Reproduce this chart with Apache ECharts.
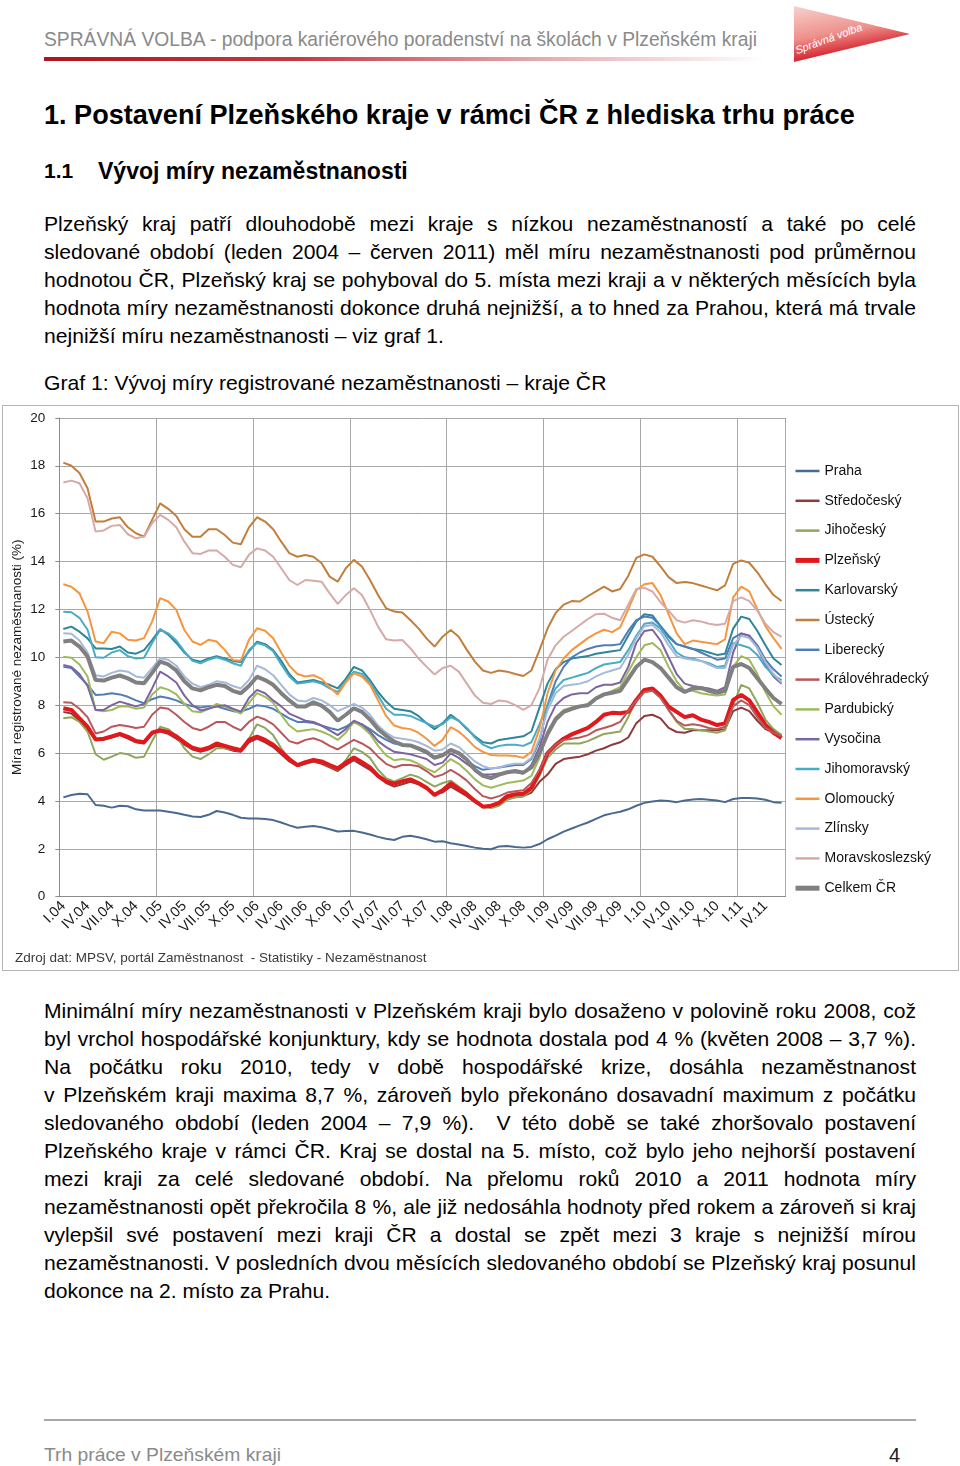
<!DOCTYPE html>
<html><head><meta charset="utf-8">
<script src="https://cdn.jsdelivr.net/npm/echarts@6/dist/echarts.min.js"></script>
<style>
html,body{margin:0;padding:0;background:#fff;}
body{width:960px;height:1466px;position:relative;overflow:hidden;font-family:'Liberation Sans',Arial,sans-serif;color:#000;}
.abs{position:absolute;white-space:nowrap;}
#hdr{left:44px;top:27px;font-size:20.5px;line-height:24px;color:#8a8a8a;font-family:'Liberation Sans Narrow','Liberation Sans',Arial,sans-serif;transform-origin:left top;}
#redline{position:absolute;left:44px;top:57px;width:722px;height:4px;background:linear-gradient(to right,#b0141c 0%,#c43a41 35%,#e6aeb1 70%,#ffffff 100%);}
#logo{position:absolute;left:794px;top:6px;width:116px;height:56px;clip-path:polygon(0 0,100% 50%,0 100%);background:linear-gradient(170deg,#f7d2cf 0%,#ee8f8a 45%,#d8303a 70%,#b8141e 100%);}
#logotxt{position:absolute;left:798px;top:44px;font-size:11px;line-height:13px;color:#fff;font-style:italic;transform:rotate(-20deg);transform-origin:left bottom;white-space:nowrap;}
#h1{left:44px;top:100px;font-size:25px;line-height:30px;font-weight:bold;}
#h2a{left:44px;top:158px;font-size:21px;line-height:26px;font-weight:bold;}
#h2b{left:98px;top:158px;font-size:21px;line-height:26px;font-weight:bold;}
.ln{position:absolute;left:44px;width:872px;font-size:21.1px;line-height:28px;text-align:justify;text-align-last:justify;}
.last{text-align:left;text-align-last:left;}
#cap{left:44px;top:369px;font-size:19.3px;line-height:28px;}
#box{position:absolute;left:2px;top:405px;width:955px;height:564px;border:1px solid #b4b4b4;}
#chart{position:absolute;left:2px;top:406px;width:956px;height:564px;}
#fline{position:absolute;left:44px;top:1419px;width:872px;height:2px;background:#a8a8a8;}
#foot{left:44px;top:1441px;font-size:19.3px;line-height:28px;color:#8a8a8a;}
#pg{left:889px;top:1441px;font-size:20px;line-height:28px;color:#222;}
</style></head>
<body>
<div id="hdr" class="abs">SPRÁVNÁ VOLBA - podpora kariérového poradenství na školách v Plzeňském kraji</div>
<div id="redline"></div>
<div id="logo"></div>
<div id="logotxt">Správná volba</div>
<div id="h1" class="abs">1. Postavení Plzeňského kraje v rámci ČR z hlediska trhu práce</div>
<div id="h2a" class="abs">1.1</div>
<div id="h2b" class="abs">Vývoj míry nezaměstnanosti</div>

<div class="ln" style="top:210px">Plzeňský kraj patří dlouhodobě mezi kraje s nízkou nezaměstnaností a také po celé</div>
<div class="ln" style="top:238px">sledované období (leden 2004 – červen 2011) měl míru nezaměstnanosti pod průměrnou</div>
<div class="ln" style="top:266px">hodnotou ČR, Plzeňský kraj se pohyboval do 5. místa mezi kraji a v některých měsících byla</div>
<div class="ln" style="top:294px">hodnota míry nezaměstnanosti dokonce druhá nejnižší, a to hned za Prahou, která má trvale</div>
<div class="ln last" style="top:322px">nejnižší míru nezaměstnanosti – viz graf 1.</div>

<div id="cap" class="abs">Graf 1: Vývoj míry registrované nezaměstnanosti – kraje ČR</div>
<div id="box"></div>
<div id="chart"></div>

<div class="ln" style="top:997px">Minimální míry nezaměstnanosti v Plzeňském kraji bylo dosaženo v polovině roku 2008, což</div>
<div class="ln" style="top:1025px">byl vrchol hospodářské konjunktury, kdy se hodnota dostala pod 4 % (květen 2008 – 3,7 %).</div>
<div class="ln" style="top:1053px">Na počátku roku 2010, tedy v době hospodářské krize, dosáhla nezaměstnanost</div>
<div class="ln" style="top:1081px">v Plzeňském kraji maxima 8,7 %, zároveň bylo překonáno dosavadní maximum z počátku</div>
<div class="ln" style="top:1109px">sledovaného období (leden 2004 – 7,9 %). &nbsp;V této době se také zhoršovalo postavení</div>
<div class="ln" style="top:1137px">Plzeňského kraje v rámci ČR. Kraj se dostal na 5. místo, což bylo jeho nejhorší postavení</div>
<div class="ln" style="top:1165px">mezi kraji za celé sledované období. Na přelomu roků 2010 a 2011 hodnota míry</div>
<div class="ln" style="top:1193px">nezaměstnanosti opět překročila 8 %, ale již nedosáhla hodnoty před rokem a zároveň si kraj</div>
<div class="ln" style="top:1221px">vylepšil své postavení mezi kraji ČR a dostal se zpět mezi 3 kraje s nejnižší mírou</div>
<div class="ln" style="top:1249px">nezaměstnanosti. V posledních dvou měsících sledovaného období se Plzeňský kraj posunul</div>
<div class="ln last" style="top:1277px">dokonce na 2. místo za Prahu.</div>

<div id="fline"></div>
<div id="foot" class="abs">Trh práce v Plzeňském kraji</div>
<div id="pg" class="abs">4</div>

<script>
// ---- categories (I.04 ... VI.11)
const romanMonths = ['I','II','III','IV','V','VI','VII','VIII','IX','X','XI','XII'];
const yearLabels = ['04','05','06','07','08','09','10','11'];
const categories = [];
yearLabels.forEach(y => romanMonths.forEach(m => { if (categories.length < 90) categories.push(m + '.' + y); }));

const yTicks = [0,2,4,6,8,10,12,14,16,18,20];

// ---- series values (%), Jan 2004 .. Jun 2011
const praha = [4.15,4.25,4.3,4.28,3.83,3.8,3.72,3.8,3.78,3.65,3.6,3.6,
 3.6,3.55,3.5,3.42,3.35,3.33,3.42,3.58,3.52,3.42,3.3,3.27,
 3.27,3.25,3.2,3.1,2.98,2.88,2.92,2.95,2.9,2.82,2.72,2.74,
 2.75,2.68,2.6,2.5,2.42,2.37,2.5,2.55,2.48,2.4,2.3,2.32,
 2.23,2.18,2.12,2.05,2.0,1.98,2.1,2.12,2.08,2.05,2.08,2.2,
 2.4,2.55,2.72,2.85,2.98,3.1,3.25,3.4,3.48,3.55,3.65,3.8,
 3.92,3.98,4.02,4.0,3.95,4.02,4.06,4.08,4.05,4.02,3.95,4.08,
 4.12,4.12,4.1,4.05,3.95,3.92];
const stredocesky = [7.72,7.65,7.35,7.0,6.55,6.55,6.65,6.75,6.6,6.45,6.4,6.8,
 6.9,6.8,6.6,6.35,6.15,6.05,6.15,6.3,6.2,6.1,6.05,6.45,
 6.6,6.45,6.25,5.95,5.65,5.45,5.55,5.65,5.55,5.4,5.25,5.5,
 5.7,5.5,5.3,5.0,4.75,4.6,4.7,4.8,4.7,4.5,4.3,4.35,
 4.6,4.4,4.2,3.95,3.75,3.75,3.85,4.1,4.15,4.2,4.35,4.8,
 5.1,5.55,5.75,5.8,5.85,5.95,6.1,6.2,6.35,6.45,6.65,7.25,
 7.55,7.6,7.45,7.05,6.88,6.85,6.95,6.95,6.95,6.95,7.0,7.75,
 7.9,7.75,7.35,7.0,6.85,6.75];
const jihocesky = [7.45,7.5,7.3,6.9,5.95,5.72,5.85,6.0,5.95,5.8,5.85,6.5,
 7.1,7.0,6.7,6.2,5.85,5.75,5.95,6.2,6.2,6.15,6.1,6.6,
 7.2,7.05,6.75,6.2,5.75,5.5,5.6,5.7,5.6,5.45,5.3,5.7,
 6.2,6.05,5.8,5.3,4.95,4.8,4.95,5.1,5.0,4.8,4.6,4.75,
 4.85,4.6,4.35,4.0,3.75,3.7,3.8,4.05,4.15,4.2,4.45,5.05,
 5.8,6.15,6.4,6.4,6.4,6.5,6.65,6.8,6.85,6.9,7.5,8.2,
 8.55,8.6,8.35,7.8,7.3,7.0,7.0,6.95,6.9,6.85,6.95,8.0,
 8.85,8.7,8.1,7.4,7.0,6.75];
const plzensky = [7.87,7.8,7.45,7.1,6.57,6.6,6.7,6.8,6.68,6.5,6.45,6.85,
 6.96,6.88,6.7,6.45,6.22,6.13,6.22,6.4,6.3,6.2,6.12,6.55,
 6.69,6.55,6.35,6.05,5.75,5.5,5.62,5.71,5.65,5.5,5.36,5.6,
 5.82,5.62,5.4,5.05,4.82,4.72,4.82,4.9,4.75,4.55,4.25,4.45,
 4.74,4.5,4.28,4.0,3.76,3.8,3.92,4.2,4.28,4.3,4.55,5.2,
 6.0,6.34,6.6,6.78,6.92,7.05,7.3,7.6,7.68,7.66,7.72,8.22,
 8.64,8.7,8.4,7.94,7.72,7.5,7.58,7.4,7.3,7.17,7.24,8.22,
 8.43,8.2,7.7,7.18,6.85,6.63];
const karlovarsky = [11.18,11.28,11.07,10.79,10.37,10.37,10.35,10.45,10.2,10.15,10.3,10.72,
 11.18,10.95,10.6,10.2,9.9,9.82,9.95,10.05,9.95,9.85,9.8,10.25,
 10.65,10.55,10.3,9.85,9.3,8.95,9.0,9.05,8.95,8.85,8.7,9.1,
 9.6,9.45,9.05,8.55,8.15,7.85,7.8,7.75,7.55,7.25,7.0,7.25,
 7.6,7.35,7.0,6.7,6.45,6.4,6.55,6.6,6.65,6.7,6.9,7.9,
 8.9,9.5,9.8,9.95,10.0,10.05,10.15,10.2,10.25,10.3,10.9,11.5,
 11.8,11.75,11.3,10.9,10.55,10.45,10.35,10.3,10.2,10.1,10.15,11.2,
 11.7,11.6,11.1,10.5,9.95,9.68];
const ustecky = [18.13,18.0,17.7,17.06,15.67,15.67,15.8,15.85,15.43,15.18,15.04,15.74,
 16.43,16.2,15.9,15.35,15.04,15.04,15.35,15.35,15.11,14.79,14.72,15.43,
 15.85,15.67,15.35,14.83,14.35,14.2,14.27,14.2,13.93,13.37,13.16,13.72,
 14.07,13.79,13.23,12.6,12.05,11.91,11.87,11.56,11.21,10.79,10.45,10.86,
 11.14,10.86,10.31,9.82,9.45,9.35,9.45,9.4,9.3,9.22,9.45,10.3,
 11.2,11.85,12.2,12.35,12.33,12.55,12.75,12.95,12.75,12.85,13.4,14.15,
 14.3,14.2,13.8,13.35,13.1,13.15,13.1,13.0,12.9,12.8,13.0,13.9,
 14.05,13.95,13.55,13.05,12.6,12.35];
const liberecky = [9.6,9.55,9.2,8.85,8.43,8.45,8.5,8.45,8.35,8.2,8.08,8.25,
 8.36,8.3,8.2,8.05,7.95,7.9,7.95,7.95,7.85,7.75,7.73,7.85,
 8.0,7.95,7.85,7.65,7.45,7.3,7.3,7.25,7.15,7.05,6.96,7.1,
 7.31,7.2,7.0,6.75,6.55,6.4,6.35,6.3,6.15,6.0,5.85,5.95,
 6.13,5.95,5.7,5.45,5.3,5.35,5.4,5.45,5.5,5.5,5.75,6.5,
 8.0,9.0,9.6,10.0,10.2,10.35,10.45,10.5,10.5,10.55,11.1,11.55,
 11.7,11.65,11.3,10.85,10.55,10.45,10.35,10.2,10.05,9.9,9.95,10.8,
 11.0,10.9,10.5,9.9,9.5,9.2];
const kralovehradecky = [8.12,8.1,7.85,7.5,6.82,6.9,7.1,7.17,7.12,7.05,7.1,7.6,
 7.9,7.85,7.6,7.3,7.05,6.95,7.1,7.3,7.3,7.1,6.95,7.3,
 7.52,7.4,7.2,6.85,6.5,6.4,6.55,6.62,6.5,6.3,6.15,6.35,
 6.55,6.4,6.2,5.85,5.55,5.4,5.5,5.5,5.45,5.25,5.0,5.1,
 5.3,5.1,4.85,4.5,4.2,4.1,4.2,4.35,4.4,4.45,4.75,5.3,
 6.0,6.35,6.55,6.6,6.65,6.75,6.95,7.05,7.15,7.3,7.75,8.2,
 8.55,8.6,8.3,7.8,7.35,7.15,7.2,7.15,7.05,7.0,7.1,7.95,
 8.2,8.0,7.5,7.05,6.85,6.7];
const pardubicky = [10.02,9.98,9.7,9.2,7.8,7.75,7.8,7.95,7.95,7.85,7.9,8.45,
 8.75,8.65,8.45,8.05,7.75,7.7,7.85,8.05,7.95,7.8,7.65,8.1,
 8.5,8.35,8.1,7.6,7.15,6.9,6.95,7.0,6.9,6.75,6.55,6.85,
 7.3,7.1,6.8,6.3,5.9,5.7,5.75,5.7,5.55,5.35,5.2,5.45,
 5.75,5.55,5.25,4.9,4.65,4.55,4.65,4.75,4.8,4.85,5.05,5.8,
 6.9,7.5,7.8,7.9,7.95,8.05,8.3,8.45,8.6,8.75,9.4,10.0,
 10.5,10.6,10.3,9.6,9.0,8.6,8.6,8.5,8.45,8.4,8.45,9.6,
 10.05,9.9,9.3,8.55,7.95,7.6];
const vysocina = [9.68,9.6,9.3,8.8,7.8,7.8,8.0,8.15,8.05,7.95,8.05,8.7,
 9.4,9.2,8.95,8.4,8.0,7.78,7.85,7.95,8.0,7.85,7.73,8.3,
 8.64,8.5,8.2,7.95,7.65,7.5,7.35,7.3,7.15,6.95,6.75,7.0,
 7.35,7.2,6.9,6.5,6.25,6.05,6.0,5.95,5.85,5.75,5.5,5.6,
 5.99,5.8,5.55,5.3,5.1,5.1,5.15,5.2,5.2,5.15,5.5,6.25,
 7.3,8.0,8.3,8.45,8.5,8.5,8.75,8.85,8.85,8.95,9.6,10.6,
 11.1,11.15,10.7,10.0,9.3,8.9,8.8,8.75,8.7,8.6,8.75,10.2,
 11.0,10.9,10.4,9.7,9.2,8.9];
const jihomoravsky = [11.9,11.88,11.65,11.15,10.0,9.98,10.2,10.3,10.05,9.95,9.98,10.6,
 11.15,11.0,10.7,10.25,9.85,9.75,9.9,10.0,9.9,9.75,9.65,10.3,
 10.6,10.5,10.25,9.7,9.2,8.9,8.95,9.0,8.9,8.7,8.55,9.0,
 9.4,9.3,8.95,8.4,7.85,7.6,7.6,7.55,7.4,7.25,7.1,7.2,
 7.5,7.35,7.05,6.65,6.35,6.2,6.3,6.35,6.35,6.3,6.45,7.2,
 8.0,8.7,9.05,9.15,9.25,9.35,9.55,9.7,9.75,9.8,10.3,10.9,
 11.4,11.45,11.2,10.7,10.2,10.0,9.95,9.85,9.75,9.6,9.65,10.6,
 10.5,10.4,10.1,9.6,9.25,9.05];
const olomoucky = [13.05,12.95,12.67,11.91,10.66,10.59,11.07,11.0,10.73,10.7,10.8,11.49,
 12.47,12.33,11.98,11.14,10.66,10.52,10.73,10.66,10.31,9.89,9.86,10.73,
 11.21,11.11,10.8,10.2,9.65,9.3,9.2,9.25,9.1,8.75,8.45,8.95,
 9.33,9.2,8.85,8.2,7.55,7.15,7.05,7.0,6.85,6.6,6.3,6.55,
 7.08,6.9,6.6,6.25,6.05,5.92,5.9,5.9,5.88,5.8,6.05,7.0,
 8.5,9.45,9.95,10.3,10.55,10.8,11.0,11.15,11.05,11.25,12.0,12.8,
 13.05,13.1,12.6,11.8,11.0,10.55,10.7,10.65,10.6,10.55,10.75,12.5,
 12.95,12.75,12.0,11.3,10.8,10.35];
const zlinsky = [11.0,10.98,10.7,10.2,9.25,9.2,9.35,9.45,9.4,9.2,9.15,9.55,
 9.96,9.9,9.65,9.2,8.9,8.75,8.85,9.0,8.95,8.8,8.7,9.05,
 9.65,9.5,9.25,8.85,8.45,8.2,8.15,8.3,8.2,8.0,7.75,7.9,
 8.05,7.9,7.6,7.15,6.85,6.65,6.6,6.55,6.45,6.3,6.1,6.15,
 6.4,6.25,5.95,5.65,5.45,5.35,5.4,5.5,5.55,5.55,5.8,6.6,
 7.8,8.5,8.8,8.85,8.9,9.0,9.2,9.35,9.45,9.55,10.1,10.8,
 11.3,11.35,11.05,10.5,10.05,9.95,9.9,9.85,9.7,9.55,9.55,10.5,
 10.9,10.8,10.4,9.8,9.3,8.95];
const moravskoslezsky = [17.3,17.38,17.27,16.64,15.25,15.3,15.49,15.53,15.14,14.97,15.04,15.6,
 15.95,15.74,15.43,14.83,14.35,14.32,14.46,14.46,14.2,13.86,13.76,14.28,
 14.55,14.46,14.2,13.72,13.23,13.02,13.23,13.2,13.16,12.67,12.23,12.6,
 12.88,12.6,11.98,11.28,10.75,10.7,10.72,10.38,9.96,9.61,9.28,9.55,
 9.65,9.4,8.9,8.4,8.1,8.05,8.2,8.15,8.0,7.8,8.0,8.7,
 9.9,10.5,10.86,11.1,11.35,11.6,11.8,11.82,11.65,11.55,12.2,12.85,
 12.9,12.75,12.3,11.95,11.55,11.45,11.55,11.5,11.4,11.35,11.4,12.35,
 12.5,12.35,11.95,11.4,11.05,10.85];
const celkemCR = [10.66,10.7,10.45,10.03,9.05,9.03,9.15,9.24,9.12,8.95,8.92,9.35,
 9.82,9.7,9.45,9.0,8.7,8.62,8.75,8.85,8.8,8.6,8.5,8.8,
 9.19,9.05,8.85,8.5,8.2,7.94,7.95,8.12,7.98,7.72,7.35,7.6,
 7.87,7.72,7.4,7.0,6.72,6.48,6.34,6.32,6.2,6.05,5.8,5.9,
 6.13,6.0,5.72,5.3,5.05,4.95,5.1,5.2,5.25,5.18,5.4,6.0,
 6.8,7.4,7.72,7.85,7.95,8.0,8.28,8.45,8.52,8.6,9.1,9.6,
 9.9,9.8,9.55,9.15,8.75,8.55,8.7,8.72,8.6,8.52,8.6,9.6,
 9.72,9.55,9.12,8.7,8.3,8.05];

const seriesDefs = [
  ['Praha', praha, '#4a6990', 2],
  ['Středočeský', stredocesky, '#8e3a3a', 2],
  ['Jihočeský', jihocesky, '#8fa75c', 2],
  ['Plzeňský', plzensky, '#e1191c', 4],
  ['Karlovarský', karlovarsky, '#2e8698', 2],
  ['Ústecký', ustecky, '#c17f3b', 2],
  ['Liberecký', liberecky, '#4f7db8', 2],
  ['Královéhradecký', kralovehradecky, '#b9585a', 2],
  ['Pardubický', pardubicky, '#9dbb5a', 2],
  ['Vysočina', vysocina, '#7e65a0', 2],
  ['Jihomoravský', jihomoravsky, '#4aabc5', 2],
  ['Olomoucký', olomoucky, '#f5963f', 2],
  ['Zlínsky', zlinsky, '#a6b9d8', 2],
  ['Moravskoslezský', moravskoslezsky, '#d5aaa8', 2],
  ['Celkem ČR', celkemCR, '#808080', 4]
];

const chart = echarts.init(document.getElementById('chart'));
chart.setOption({
  animation: false,
  grid: {left: 57.3, top: 11.9, width: 726.3, height: 478.8, containLabel: false, outerBoundsMode: 'none'},
  xAxis: {
    type: 'category', data: categories, boundaryGap: true,
    axisLine: {lineStyle: {color: '#8c8c8c', width: 1}},
    axisTick: {interval: 5, length: 5, lineStyle: {color: '#8c8c8c'}},
    axisLabel: {interval: 2, rotate: 45, fontSize: 14.5, color: '#1a1a1a', margin: 7, fontFamily: 'Liberation Sans'},
    splitLine: {show: true, interval: 11, lineStyle: {color: '#a8a8a8', width: 1}}
  },
  yAxis: {
    type: 'value', min: yTicks[0], max: yTicks[yTicks.length-1], interval: 2,
    axisLine: {show: true, lineStyle: {color: '#8c8c8c'}},
    axisTick: {show: true, length: 4, lineStyle: {color: '#8c8c8c'}},
    axisLabel: {fontSize: 13.5, color: '#1a1a1a', margin: 14, fontFamily: 'Liberation Sans'},
    splitLine: {lineStyle: {color: '#a8a8a8', width: 1}},
    name: 'Míra registrované nezaměstnanosti (%)', nameLocation: 'middle', nameGap: 35,
    nameMoveOverlap: false,
    nameTextStyle: {fontSize: 13.5, color: '#1a1a1a', fontFamily: 'Liberation Sans'}
  },
  legend: {
    orient: 'vertical', left: 791, top: 58, padding: 0, itemWidth: 24, itemHeight: 14, itemGap: 15.8,
    itemStyle: {opacity: 0},
    textStyle: {fontSize: 14, color: '#111', fontFamily: 'Liberation Sans'},
    data: seriesDefs.map(d => ({name: d[0], lineStyle: {width: d[3] > 2 ? 5 : 2.5}}))
  },
  graphic: [{type: 'text', left: 13, top: 545,
    style: {text: 'Zdroj dat: MPSV, portál Zaměstnanost  - Statistiky - Nezaměstnanost', fontSize: 13.5, fill: '#3a3a3a', fontFamily: 'Liberation Sans'}}],
  series: seriesDefs.map(d => ({
    name: d[0], type: 'line', data: d[1], symbol: 'none', smooth: false,
    lineStyle: {color: d[2], width: d[3]}, itemStyle: {color: d[2]},
    emphasis: {disabled: true}
  }))
});

// fit text widths to the reference layout
function fitW(id, w) {
  const el = document.getElementById(id);
  const cur = el.getBoundingClientRect().width;
  const fs = parseFloat(getComputedStyle(el).fontSize);
  el.style.fontSize = (fs * w / cur) + 'px';
}
function fitScale(id, w) {
  const el = document.getElementById(id);
  const cur = el.getBoundingClientRect().width;
  el.style.transform = 'scaleX(' + (w / cur) + ')';
}
fitScale('hdr', 713); fitW('h1', 811); fitW('h2b', 310); fitW('cap', 562); fitW('foot', 237);
document.querySelectorAll('.ln').forEach(el => {
  let fs = 21.1;
  while (el.getBoundingClientRect().height > 40 && fs > 15) { fs -= 0.1; el.style.fontSize = fs + 'px'; }
});
</script>
</body></html>
